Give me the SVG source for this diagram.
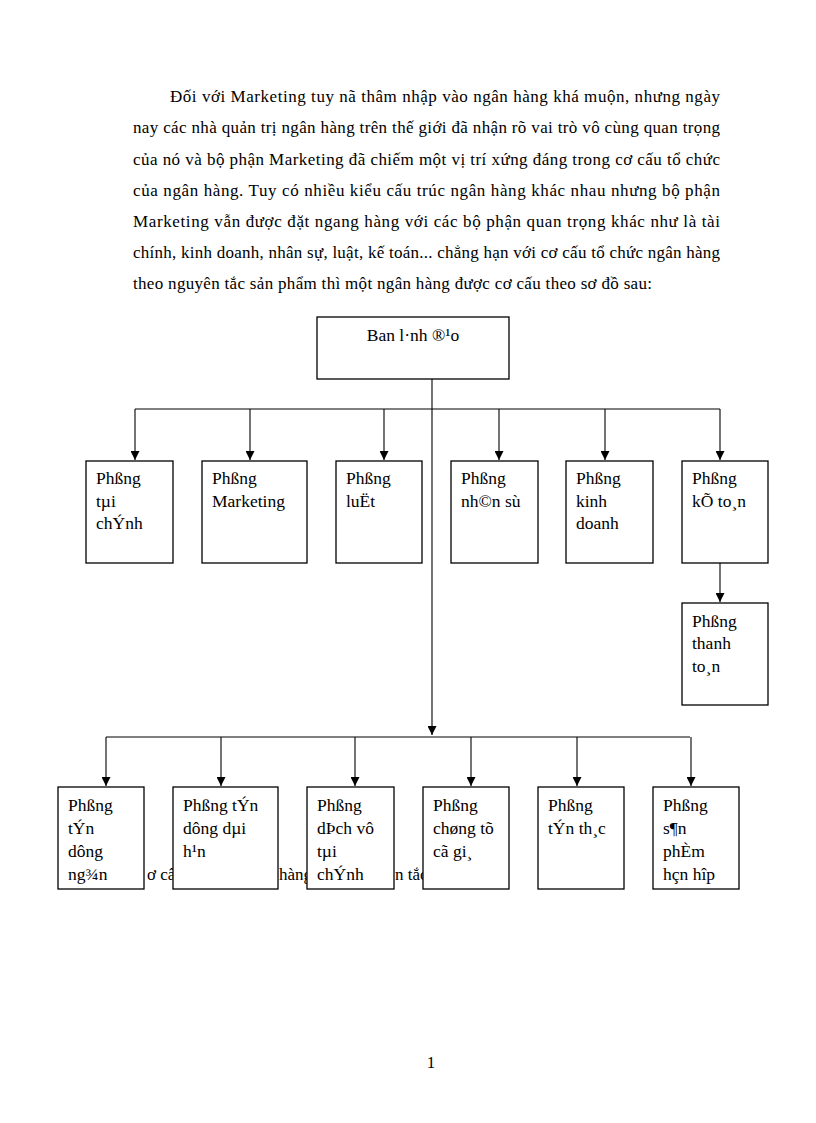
<svg xmlns="http://www.w3.org/2000/svg" width="816" height="1123" viewBox="0 0 816 1123">
<style>
.p{font-family:"Liberation Serif","Times New Roman",serif;font-size:17px;fill:#000}
.b{font-family:"Liberation Serif","Times New Roman",serif;font-size:17.5px;fill:#000}
.box{fill:#fff;stroke:#000;stroke-width:1.3}
.ln{fill:none;stroke:#000;stroke-width:1.1}
</style>
<defs>
<marker id="ah" viewBox="0 0 10 10" refX="10" refY="5" markerWidth="9" markerHeight="9" markerUnits="userSpaceOnUse" orient="auto">
<path d="M0,0 L10,5 L0,10 Z" fill="#000"/>
</marker>
</defs>
<rect width="816" height="1123" fill="#fff"/>
<g id="paragraph">
<text class="p" x="170" y="102" textLength="550" lengthAdjust="spacing">Đối với Marketing tuy nã thâm nhập vào ngân hàng khá muộn, nhưng ngày</text>
<text class="p" x="133" y="133" textLength="587" lengthAdjust="spacing">nay các nhà quản trị ngân hàng trên thế giới đã nhận rõ vai trò vô cùng quan trọng</text>
<text class="p" x="133" y="164.5" textLength="587" lengthAdjust="spacing">của nó và bộ phận Marketing đã chiếm một vị trí xứng đáng trong cơ cấu tổ chức</text>
<text class="p" x="133" y="195.5" textLength="587" lengthAdjust="spacing">của ngân hàng. Tuy có nhiều kiểu cấu trúc ngân hàng khác nhau nhưng bộ phận</text>
<text class="p" x="133" y="227" textLength="587" lengthAdjust="spacing">Marketing vẫn được đặt ngang hàng với các bộ phận quan trọng khác như là tài</text>
<text class="p" x="133" y="258" textLength="587" lengthAdjust="spacing">chính, kinh doanh, nhân sự, luật, kế toán... chẳng hạn với cơ cấu tổ chức ngân hàng</text>
<text class="p" x="133" y="289" textLength="519" lengthAdjust="spacing">theo nguyên tắc sản phẩm thì một ngân hàng được cơ cấu theo sơ đồ sau:</text>
</g>
<g id="caption-fragments">
<text class="p" x="147" y="880">ơ cấ</text>
<text class="p" x="279" y="880">hàng</text>
<text class="p" x="395" y="880">n tắc</text>
</g>
<g id="connectors">
<path class="ln" d="M432,379 V735" marker-end="url(#ah)"/>
<path class="ln" d="M135,409 H720"/>
<path class="ln" d="M135,409 V460" marker-end="url(#ah)"/>
<path class="ln" d="M250,409 V460" marker-end="url(#ah)"/>
<path class="ln" d="M384,409 V460" marker-end="url(#ah)"/>
<path class="ln" d="M499,409 V460" marker-end="url(#ah)"/>
<path class="ln" d="M605,409 V460" marker-end="url(#ah)"/>
<path class="ln" d="M720,409 V460" marker-end="url(#ah)"/>
<path class="ln" d="M720,563 V602" marker-end="url(#ah)"/>
<path class="ln" d="M106,737 H690"/>
<path class="ln" d="M106,737 V786" marker-end="url(#ah)"/>
<path class="ln" d="M221,737 V786" marker-end="url(#ah)"/>
<path class="ln" d="M355,737 V786" marker-end="url(#ah)"/>
<path class="ln" d="M471,737 V786" marker-end="url(#ah)"/>
<path class="ln" d="M577,737 V786" marker-end="url(#ah)"/>
<path class="ln" d="M691,737 V786" marker-end="url(#ah)"/>
</g>
<g id="ban-lanh-dao">
<rect class="box" x="317" y="317" width="192" height="62"/>
<text class="b" x="413" y="341" text-anchor="middle">Ban l·nh ®¹o</text>
</g>
<g id="phong-tai-chinh">
<rect class="box" x="86" y="461" width="87" height="102"/>
<text class="b" x="96" y="484">Phßng</text>
<text class="b" x="96" y="507">tµi</text>
<text class="b" x="96" y="529">chÝnh</text>
</g>
<g id="phong-marketing">
<rect class="box" x="202" y="461" width="105" height="102"/>
<text class="b" x="212" y="484">Phßng</text>
<text class="b" x="212" y="507">Marketing</text>
</g>
<g id="phong-luat">
<rect class="box" x="336" y="461" width="86" height="102"/>
<text class="b" x="346" y="484">Phßng</text>
<text class="b" x="346" y="507">luËt</text>
</g>
<g id="phong-nhan-su">
<rect class="box" x="451" y="461" width="87" height="102"/>
<text class="b" x="461" y="484">Phßng</text>
<text class="b" x="461" y="507">nh©n sù</text>
</g>
<g id="phong-kinh-doanh">
<rect class="box" x="566" y="461" width="87" height="102"/>
<text class="b" x="576" y="484">Phßng</text>
<text class="b" x="576" y="507">kinh</text>
<text class="b" x="576" y="529">doanh</text>
</g>
<g id="phong-ke-toan">
<rect class="box" x="682" y="461" width="86" height="102"/>
<text class="b" x="692" y="484">Phßng</text>
<text class="b" x="692" y="507">kÕ to¸n</text>
</g>
<g id="phong-thanh-toan">
<rect class="box" x="682" y="603" width="86" height="102"/>
<text class="b" x="692" y="627">Phßng</text>
<text class="b" x="692" y="649">thanh</text>
<text class="b" x="692" y="672">to¸n</text>
</g>
<g id="phong-tin-dung-ngan">
<rect class="box" x="58" y="787" width="86" height="102"/>
<text class="b" x="68" y="811">Phßng</text>
<text class="b" x="68" y="834">tÝn</text>
<text class="b" x="68" y="857">dông</text>
<text class="b" x="68" y="880">ng¾n</text>
</g>
<g id="phong-tin-dung-dai">
<rect class="box" x="173" y="787" width="105" height="102"/>
<text class="b" x="183" y="811">Phßng tÝn</text>
<text class="b" x="183" y="834">dông dµi</text>
<text class="b" x="183" y="857">h¹n</text>
</g>
<g id="phong-dich-vu">
<rect class="box" x="307" y="787" width="87" height="102"/>
<text class="b" x="317" y="811">Phßng</text>
<text class="b" x="317" y="834">dÞch vô</text>
<text class="b" x="317" y="857">tµi</text>
<text class="b" x="317" y="880">chÝnh</text>
</g>
<g id="phong-chung-khoan">
<rect class="box" x="423" y="787" width="86" height="102"/>
<text class="b" x="433" y="811">Phßng</text>
<text class="b" x="433" y="834">chøng tõ</text>
<text class="b" x="433" y="857">cã gi¸</text>
</g>
<g id="phong-tin-thac">
<rect class="box" x="538" y="787" width="86" height="102"/>
<text class="b" x="548" y="811">Phßng</text>
<text class="b" x="548" y="834">tÝn th¸c</text>
</g>
<g id="phong-san-pham">
<rect class="box" x="653" y="787" width="86" height="102"/>
<text class="b" x="663" y="811">Phßng</text>
<text class="b" x="663" y="834">s¶n</text>
<text class="b" x="663" y="857">phÈm</text>
<text class="b" x="663" y="880">hçn hîp</text>
</g>
<text class="p" x="431" y="1068" text-anchor="middle">1</text>
</svg>
